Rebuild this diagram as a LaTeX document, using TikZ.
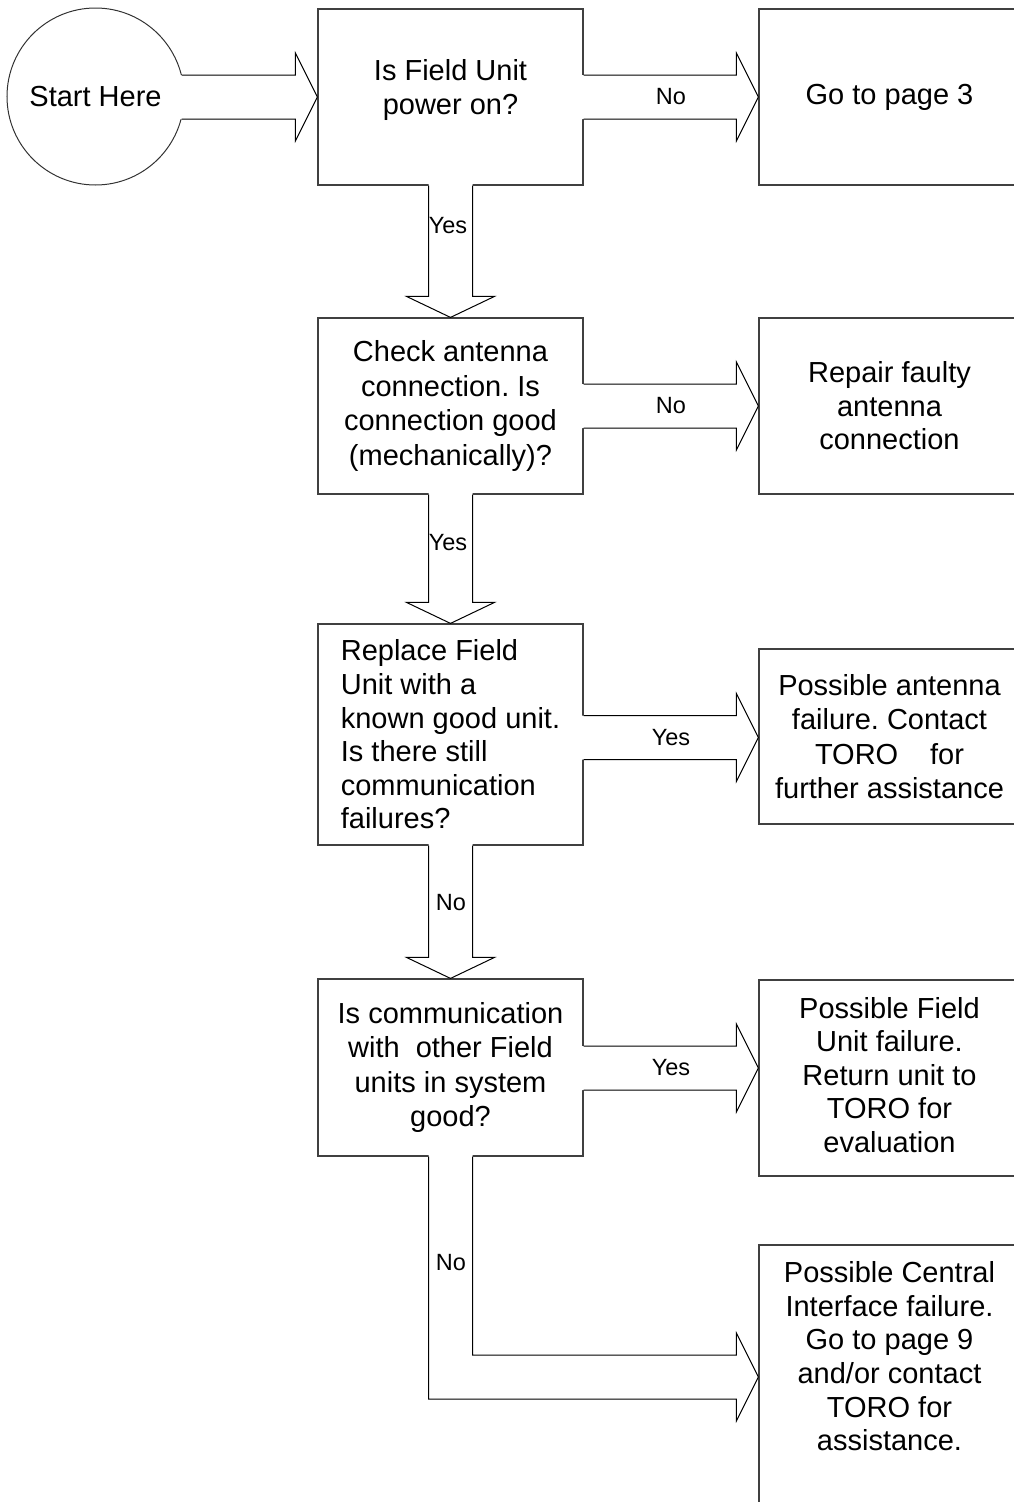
\documentclass[tikz,border=0pt]{standalone}
\usepackage{fontspec}
\setmainfont{Liberation Sans}
\usetikzlibrary{calc}
\frenchspacing

\tikzset{
  box/.style={draw=black!75, line width=1.2pt, fill=white, minimum width=265pt,
    inner sep=0pt, align=center, font=\fontsize{29}{33.6}\selectfont},
  sidebox/.style={box, minimum width=261pt},
  boxtext/.style={inner sep=0pt, align=center, font=\fontsize{29}{33.6}\selectfont},
  startcircle/.style={circle, draw=black!80, line width=1pt, minimum size=177pt,
    inner sep=0pt, font=\fontsize{29}{33.6}\selectfont},
  flow/.style={draw=black, line width=1pt, line join=miter},
  cover/.style={fill=white, draw=none},
  tag/.style={font=\fontsize{23.5}{27}\selectfont, inner sep=0pt},
}

% horizontal block arrow: #1 = start on the source border, #2 = tip on the target border
\newcommand\harrow[2]{%
  \path[cover] ($(#1)+(-8,-22)$) -- ($(#2)+(-22,-22)$) -- ($(#2)+(-22,-44)$) -- (#2)
    -- ($(#2)+(-22,44)$) -- ($(#2)+(-22,22)$) -- ($(#1)+(-8,22)$) -- cycle;
  \draw[flow] ($(#1)+(0,-22)$) -- ($(#2)+(-22,-22)$) -- ($(#2)+(-22,-44)$) -- (#2)
    -- ($(#2)+(-22,44)$) -- ($(#2)+(-22,22)$) -- ($(#1)+(0,22)$);
}
% vertical block arrow, pointing down
\newcommand\varrow[2]{%
  \path[cover] ($(#1)+(-22,-8)$) -- ($(#2)+(-22,-21)$) -- ($(#2)+(-44,-21)$) -- (#2)
    -- ($(#2)+(44,-21)$) -- ($(#2)+(22,-21)$) -- ($(#1)+(22,-8)$) -- cycle;
  \draw[flow] ($(#1)+(-22,0)$) -- ($(#2)+(-22,-21)$) -- ($(#2)+(-44,-21)$) -- (#2)
    -- ($(#2)+(44,-21)$) -- ($(#2)+(22,-21)$) -- ($(#1)+(22,0)$);
}

\begin{document}
\begin{tikzpicture}[x=1pt, y=-1pt]
\useasboundingbox (0,0) rectangle (1013,1502);

% start symbol
\node[startcircle] (start) at (95.5,96.5) {Start Here};

% question boxes
\node[box, minimum height=176pt] (q1) at (450.5,97) {};
\node[boxtext] (q1text) at ($(q1.center)+(0,-7)$) {Is Field Unit\\power on?};
\node[box, minimum height=176pt, font=\fontsize{29}{34.5}\selectfont] (q2) at (450.5,406) {Check antenna\\connection. Is\\connection good\\(mechanically)?};
\node[box, minimum height=221pt, align=left] (q3) at (450.5,734.5) {Replace Field\\Unit with a\\known good unit.\\Is there still\\communication\\failures?};
\node[box, minimum height=177pt, font=\fontsize{29}{34.5}\selectfont] (q4) at (450.5,1067.5) {Is communication\\with\ \ other Field\\units in system\\good?};

% outcome boxes
\node[sidebox, minimum height=176pt] (r1) at (889.5,97) {Go to page 3};
\node[sidebox, minimum height=176pt] (r2) at (889.5,406) {Repair faulty\\antenna\\connection};
\node[sidebox, minimum height=175pt, font=\fontsize{29}{34.3}\selectfont] (r3) at (889.5,736.5) {Possible antenna\\failure. Contact\\TORO\hspace{1.1em}for\\further assistance};
\node[sidebox, minimum height=196pt] (r4) at (889.5,1078) {};
\node[boxtext] (r4text) at ($(r4.center)+(0,-3)$) {Possible Field\\Unit failure.\\Return unit to\\TORO for\\evaluation};
\node[sidebox, minimum height=315pt] (r5) at (889.5,1402.5) {};
\node[boxtext, anchor=north] (r5text) at ($(r5.north)+(0,17)$) {Possible Central\\Interface failure.\\Go to page 9\\and/or contact\\TORO for\\assistance.};

% arrow end points
\coordinate (a0s) at ($(start.center)+(86,0.5)$);
\coordinate (a3s) at (q3.east |- 0,737.5);
\coordinate (a3t) at (r3.west |- 0,737.5);
\coordinate (a4s) at (q4.east |- 0,1068);
\coordinate (a4t) at (r4.west |- 0,1068);
\coordinate (a5t) at (r5.west |- 0,1377);

% connectors
\harrow{a0s}{q1.west}
\harrow{q1.east}{r1.west}
\harrow{q2.east}{r2.west}
\harrow{a3s}{a3t}
\harrow{a4s}{a4t}
\varrow{q1.south}{q2.north}
\varrow{q2.south}{q3.north}
\varrow{q3.south}{q4.north}

% bent arrow from the last question to the last outcome
\path[cover] ($(q4.south)+(-22,-8)$) |- ($(a5t)+(-22,22)$) -- ($(a5t)+(-22,44)$) -- (a5t)
  -- ($(a5t)+(-22,-44)$) -- ($(a5t)+(-22,-22)$) -| ($(q4.south)+(22,-8)$) -- cycle;
\draw[flow] ($(q4.south)+(-22,0)$) |- ($(a5t)+(-22,22)$) -- ($(a5t)+(-22,44)$) -- (a5t)
  -- ($(a5t)+(-22,-44)$) -- ($(a5t)+(-22,-22)$) -| ($(q4.south)+(22,0)$);

% branch labels
\node[tag] (l1) at ($(q1.east)!.5!(r1.west)$) {No};
\node[tag] (l2) at ($(q2.east)!.5!(r2.west)$) {No};
\node[tag] (l3) at ($(a3s)!.5!(a3t)$) {Yes};
\node[tag] (l4) at ($(a4s)!.5!(a4t)$) {Yes};
\node[tag] (l5) at (448,226) {Yes};
\node[tag] (l6) at (448,543) {Yes};
\node[tag] (l7) at (451,903) {No};
\node[tag] (l8) at (451,1263) {No};
\end{tikzpicture}
\end{document}
